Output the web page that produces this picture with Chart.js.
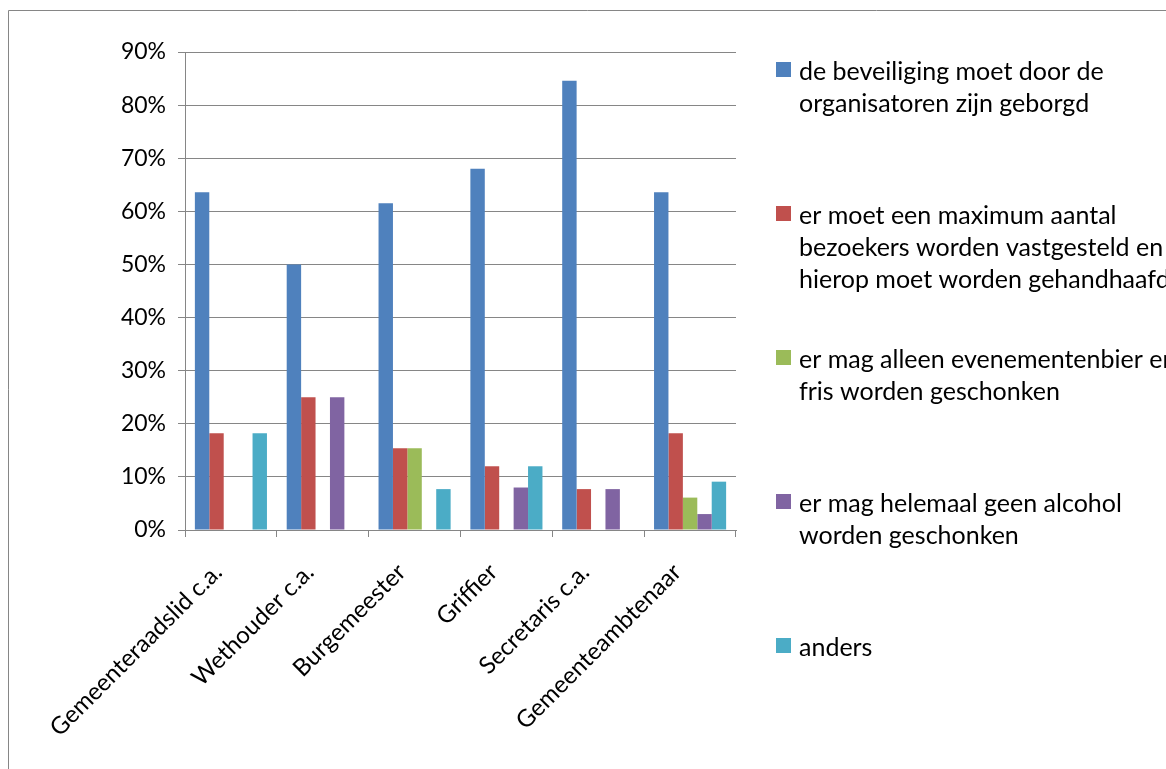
<!DOCTYPE html>
<html>
<head>
<meta charset="utf-8">
<script src="https://cdn.jsdelivr.net/npm/chart.js@4.4.1/dist/chart.umd.min.js"></script>
<style>
  html, body { margin: 0; padding: 0; background: #fff; }
  #wrap { position: relative; width: 1166px; height: 769px; overflow: hidden; }
</style>
</head>
<body>
<div id="wrap"><canvas id="c"></canvas></div>
<script>
// ---- data (percentages) ----
const categories = ['Gemeenteraadslid c.a.', 'Wethouder c.a.', 'Burgemeester', 'Griffier', 'Secretaris c.a.', 'Gemeenteambtenaar'];
const beveiliging     = [63.6, 50.0, 61.5, 68.0, 84.6, 63.6];
const maximumAantal   = [18.2, 25.0, 15.4, 12.0, 7.7, 18.2];
const evenementenbier = [0, 0, 15.4, 0, 0, 6.1];
const geenAlcohol     = [0, 25.0, 0, 8.0, 7.7, 3.0];
const anders          = [18.2, 0, 7.7, 12.0, 0, 9.1];
const yTicks = [0, 10, 20, 30, 40, 50, 60, 70, 80, 90];

const seriesLabels = [
  ['de beveiliging moet door de', 'organisatoren zijn geborgd'],
  ['er moet een maximum aantal', 'bezoekers worden vastgesteld en', 'hierop moet worden gehandhaafd'],
  ['er mag alleen evenementenbier en', 'fris worden geschonken'],
  ['er mag helemaal geen alcohol', 'worden geschonken'],
  ['anders']
];
const seriesColors = ['#4F81BD', '#C0504D', '#9BBB59', '#8064A2', '#4BACC6'];
const seriesValues = [beveiliging, maximumAantal, evenementenbier, geenAlcohol, anders];

const FONT = 'Lato, Carlito, "Open Sans", sans-serif';
const GRID = '#868686';

const frame = {
  id: 'frame',
  beforeDraw(chart) {
    const ctx = chart.ctx;
    ctx.save();
    ctx.strokeStyle = GRID;
    ctx.lineWidth = 1;
    ctx.beginPath();
    ctx.moveTo(8.5, chart.height);
    ctx.lineTo(8.5, 10.5);
    ctx.lineTo(chart.width, 10.5);
    ctx.stroke();
    ctx.restore();
  }
};

const sideLegend = {
  id: 'sideLegend',
  afterDraw(chart) {
    const ctx = chart.ctx;
    const area = chart.chartArea;
    const x0 = area.right + 40;
    const top = area.top + 20;
    const step = 144, lineH = 32;
    ctx.save();
    ctx.font = '25px ' + FONT;
    ctx.textBaseline = 'middle';
    ctx.textAlign = 'left';
    chart.data.datasets.forEach((ds, i) => {
      const yc = top + i * step;
      ctx.fillStyle = ds.backgroundColor;
      ctx.fillRect(x0, yc - 10, 15, 15);
      ctx.fillStyle = '#000';
      ds.legendLines.forEach((line, j) => ctx.fillText(line, x0 + 23, yc + j * lineH));
    });
    ctx.restore();
  }
};

new Chart(document.getElementById('c'), {
  type: 'bar',
  data: {
    labels: categories,
    datasets: seriesValues.map((vals, i) => ({
      label: seriesLabels[i].join(' '),
      legendLines: seriesLabels[i],
      data: vals,
      backgroundColor: seriesColors[i],
      borderWidth: 0,
      categoryPercentage: 0.785,
      barPercentage: 1.0
    }))
  },
  options: {
    responsive: true,
    maintainAspectRatio: false,
    animation: false,
    layout: { padding: { left: 0, top: 52, right: 430, bottom: 0 } },
    plugins: {
      legend: { display: false },
      tooltip: { enabled: false },
      title: { display: false }
    },
    scales: {
      x: {
        grid: { display: true, drawOnChartArea: false, drawTicks: true, tickLength: 7, color: GRID, offset: true },
        border: { display: true, color: GRID, width: 1 },
        ticks: {
          autoSkip: false,
          minRotation: 45,
          maxRotation: 45,
          padding: 21,
          labelOffset: -13,
          color: '#000',
          font: { family: FONT, size: 24 }
        },
        afterFit(scale) { scale.height = 239; }
      },
      y: {
        min: 0,
        max: 90,
        afterBuildTicks(scale) { scale.ticks = yTicks.map(v => ({ value: v })); },
        grid: { color: GRID, tickLength: 7, drawTicks: true },
        border: { display: true, color: GRID, width: 1 },
        ticks: {
          padding: 12,
          color: '#000',
          font: { family: FONT, size: 23 },
          callback: (v) => v + '%'
        },
        afterFit(scale) { scale.width = 185; }
      }
    }
  },
  plugins: [frame, sideLegend]
});
</script>
</body>
</html>
